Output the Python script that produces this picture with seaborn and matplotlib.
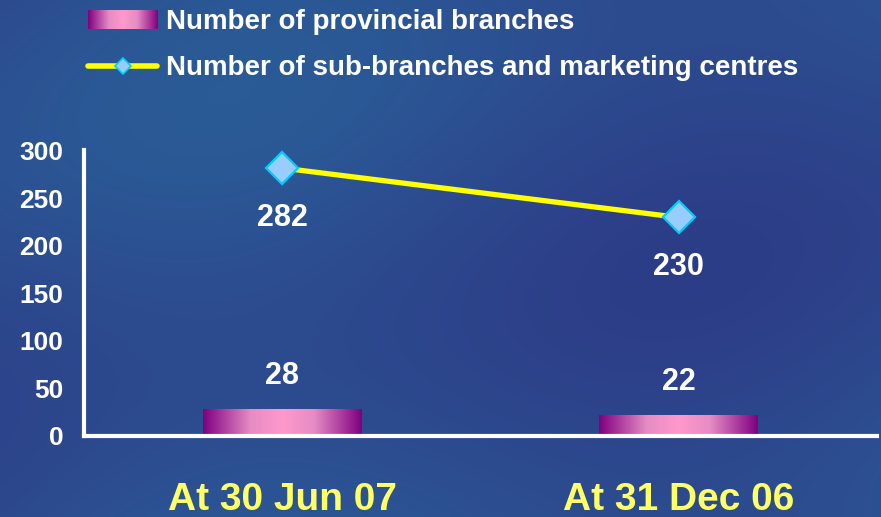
import numpy as np
import matplotlib
matplotlib.use("Agg")
import matplotlib.pyplot as plt
from matplotlib.patches import Patch
from matplotlib.lines import Line2D
import seaborn as sns
import pandas as pd

# data
periods = ["At 30 Jun 07", "At 31 Dec 06"]
provincial_branches = [28, 22]
sub_branches = [282, 230]
bar_label = "Number of provincial branches"
line_label = "Number of sub-branches and marketing centres"

df = pd.DataFrame({"period": periods,
                   "provincial": provincial_branches,
                   "sub": sub_branches})

sns.set_style("white")
plt.rcParams["font.family"] = ["Liberation Sans", "DejaVu Sans"]
plt.rcParams["font.weight"] = "bold"

bg = "#2d4a8e"
fig = plt.figure(figsize=(8.81, 5.17), dpi=100)
fig.patch.set_facecolor(bg)

# soft background wash
bg_ax = fig.add_axes([0, 0, 1, 1], zorder=-1)
yy, xx = np.mgrid[0:1:200j, 0:1:340j]
wash = 0.5 + 0.25 * np.sin(4 * xx + 3 * yy) * np.cos(3 * yy - 2 * xx)
bg_cmap = matplotlib.colors.LinearSegmentedColormap.from_list(
    "bg", ["#2c3d87", "#2d4b8f", "#2a5b97"])
bg_ax.imshow(wash, cmap=bg_cmap, aspect="auto", extent=[0, 1, 0, 1])
bg_ax.axis("off")

ax = fig.add_axes([0.0953, 0.1567, 0.9002, 0.5532])
ax.set_facecolor("none")

sns.barplot(data=df, x="period", y="provincial", ax=ax, width=0.40,
            color="#ff99cc", saturation=1)
sns.lineplot(data=df, x="period", y="sub", ax=ax, sort=False,
             color="#ffff00", linewidth=3.8, marker="D", markersize=16,
             markerfacecolor="#99ccff", markeredgecolor="#00ccff",
             markeredgewidth=1.6, legend=False)

# horizontal purple-pink-purple gradient in each bar
grad_cmap = matplotlib.colors.LinearSegmentedColormap.from_list(
    "bar", [(0, "#800080"), (0.3, "#e68cc4"), (0.5, "#ff99cc"),
            (0.7, "#e68cc4"), (1, "#800080")])
grad = np.linspace(0, 1, 256).reshape(1, -1)
for p in ax.patches:
    x0, y0 = p.get_x(), p.get_y()
    w, h = p.get_width(), p.get_height()
    ax.imshow(grad, cmap=grad_cmap, aspect="auto",
              extent=[x0, x0 + w, y0, y0 + h], zorder=2)
    p.set_visible(False)

ax.set_xlim(-0.5, 1.5)
ax.set_ylim(0, 301)
ax.set_yticks([0, 50, 100, 150, 200, 250, 300])
ax.set_xlabel("")
ax.set_ylabel("")
ax.tick_params(axis="y", length=0, pad=15, labelsize=19, labelcolor="white")
ax.tick_params(axis="x", length=0, pad=33, labelsize=28, labelcolor="#ffff66")
for t in ax.get_xticklabels() + ax.get_yticklabels():
    t.set_fontweight("bold")

for side in ["top", "right"]:
    ax.spines[side].set_visible(False)
for side in ["left", "bottom"]:
    ax.spines[side].set_color("white")
    ax.spines[side].set_linewidth(3)

# value labels
for i, v in enumerate(sub_branches):
    ax.annotate(str(v), (i, v), xytext=(0, -36), textcoords="offset points",
                ha="center", va="center", color="white", fontsize=22,
                fontweight="bold")
for i, v in enumerate(provincial_branches):
    ax.annotate(str(v), (i, v), xytext=(0, 24), textcoords="offset points",
                ha="center", va="center", color="white", fontsize=22,
                fontweight="bold")

ax.set_ylim(0, 301)
ax.set_xlim(-0.5, 1.5)

handles = [
    Patch(facecolor="#ff99cc", edgecolor="none"),
    Line2D([0], [0], color="#ffff00", linewidth=4, marker="D", markersize=8,
           markerfacecolor="#99ccff", markeredgecolor="#00ccff",
           markeredgewidth=1.2),
]
leg = fig.legend(handles=handles, labels=[bar_label, line_label],
                 loc="upper left", bbox_to_anchor=(0.084, 1.009),
                 frameon=False, fontsize=20, handlelength=2.5,
                 handleheight=0.7, handletextpad=0.3, labelspacing=0.72,
                 borderaxespad=0.1)
for txt in leg.get_texts():
    txt.set_color("white")
    txt.set_fontweight("bold")

# gradient fill for the bar legend swatch
fig.canvas.draw()
handle = leg.legend_handles[0]
bb = handle.get_window_extent().transformed(fig.transFigure.inverted())
handle.set_visible(False)
sw = fig.add_axes([bb.x0, bb.y0, bb.width, bb.height], zorder=5)
sw.imshow(grad, cmap=grad_cmap, aspect="auto")
sw.axis("off")

fig.savefig("out.png", dpi=100, facecolor=fig.get_facecolor())
